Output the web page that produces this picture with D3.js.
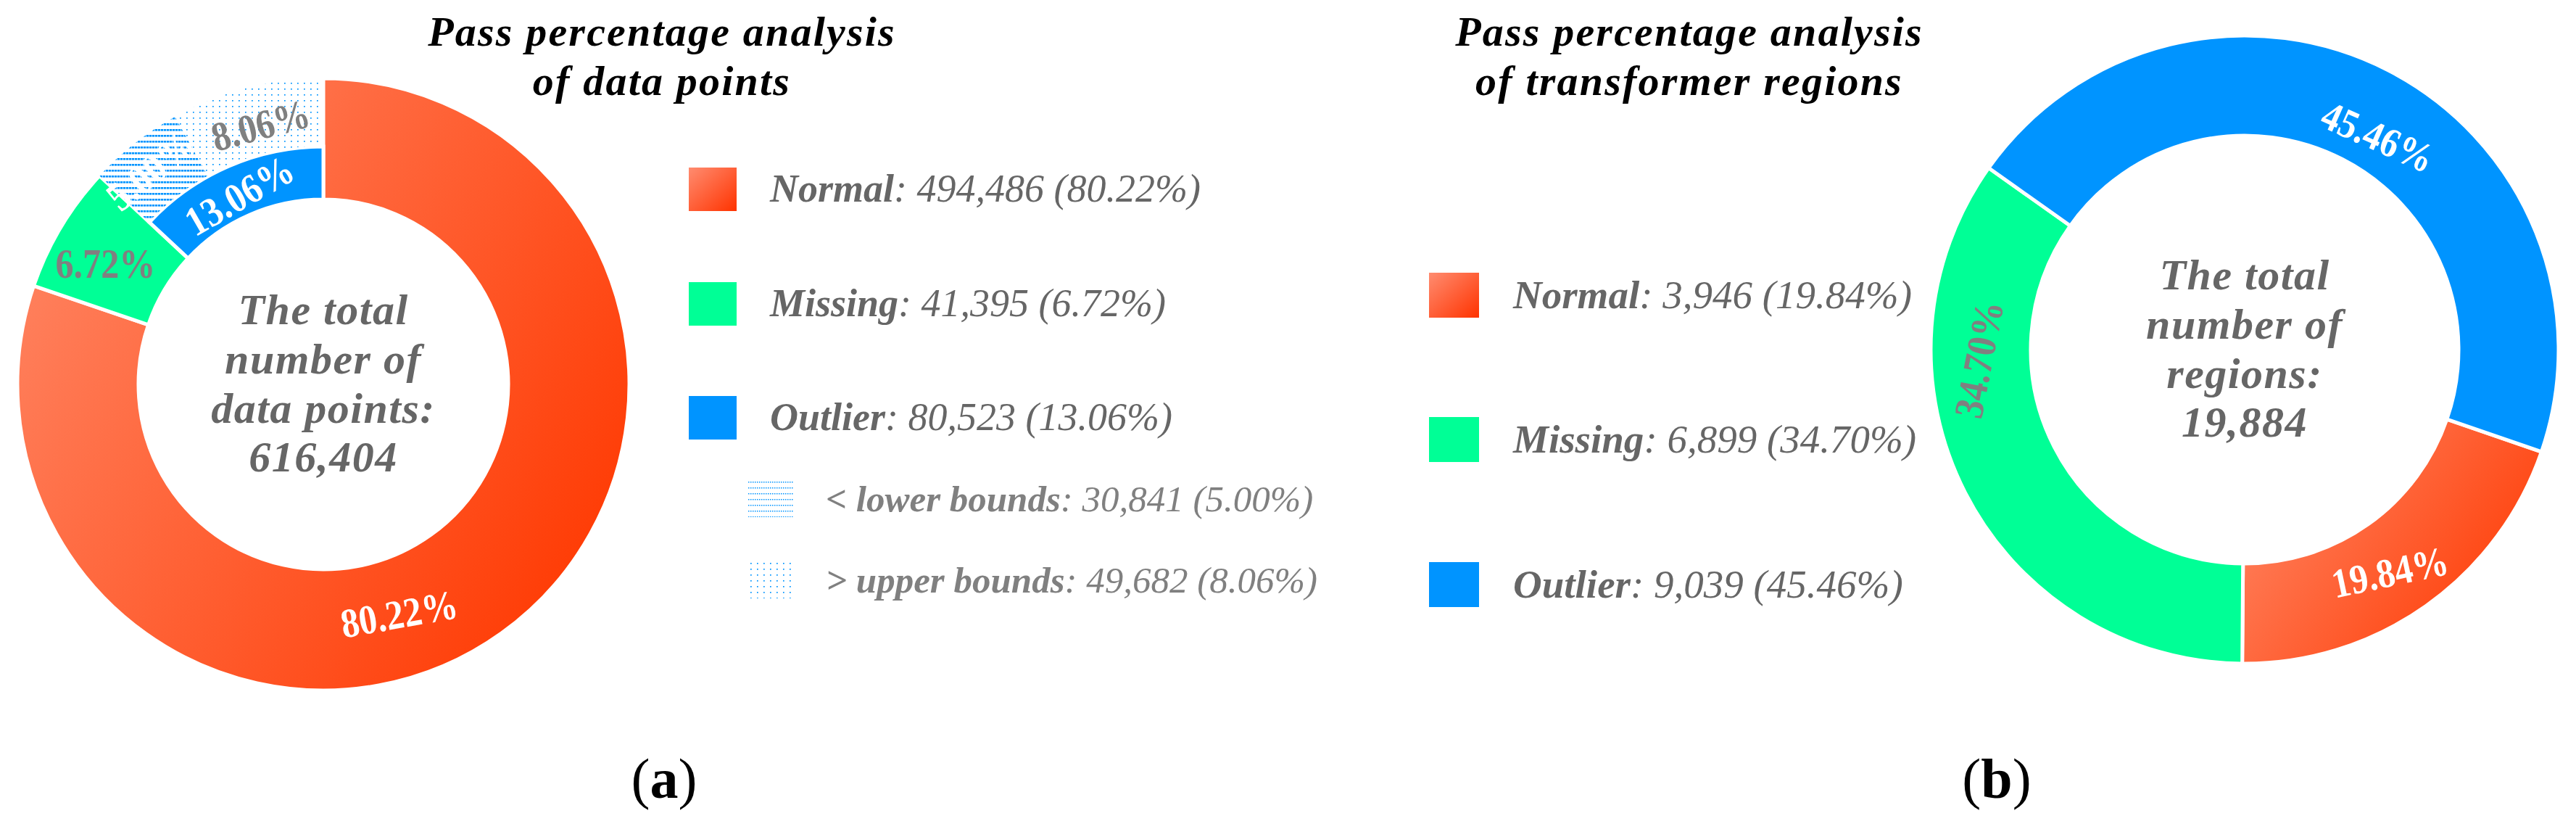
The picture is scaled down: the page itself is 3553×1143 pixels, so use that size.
<!DOCTYPE html>
<html><head><meta charset="utf-8">
<script src="https://cdn.jsdelivr.net/npm/d3@7"></script>
<style>
body{margin:0;background:#fff}
svg{display:block}
text{font-family:"Liberation Serif","Times New Roman",serif}
</style>
</head><body>
<svg id="chart" width="3553" height="1143"></svg>
<script>
// ---------------- data ----------------
const categoriesA = ["Normal", "Missing", "Outlier"];
const countsA = [494486, 41395, 80523];
const percentLabelsA = ["80.22%", "6.72%", "13.06%"];
const outlierSubNames = ["< lower bounds", "> upper bounds"];
const outlierSubCounts = [30841, 49682];
const outlierSubLabels = ["5.00%", "8.06%"];
const categoriesB = ["Normal", "Missing", "Outlier"];
const countsB = [3946, 6899, 9039];
const percentLabelsB = ["19.84%", "34.70%", "45.46%"];
const titleA = ["Pass percentage analysis", "of data points"];
const titleB = ["Pass percentage analysis", "of transformer regions"];
const centerTextA = ["The total", "number of", "data points:"];
const centerTextB = ["The total", "number of", "regions:"];
const panelLetters = ["a", "b"];

// ---------------- style / layout ----------------
const deg = Math.PI / 180;
const COLORS = {Normal: "url(#gradSlice)", Missing: "#00FF96", Outlier: "#0094FF"};
const SWATCH = {Normal: "url(#gradSwatch)", Missing: "#00FF96", Outlier: "#0094FF"};
const A = {cx: 446, cy: 530, r0: 255, rMid: 328, r1: 422, start: 0};
const B = {cx: 3096, cy: 482, r0: 295, r1: 433, start: 109};
const labelLayoutA = [
  {t: 0.56, rf: 0.47, rot: -10, fill: "#fff"},
  {t: 0.42, rf: 0.53, rot: 0, fill: "#808080"},
  {t: 0.49, rf: 0.41, rot: -30, fill: "#fff"}
];
const subLabelLayout = [
  {t: 0.45, rf: 0.54, rot: -39, fill: "#fff"},
  {t: 0.53, rf: 0.42, rot: -15, fill: "#808080"}
];
const labelLayoutB = [
  {t: 0.53, rf: 0.52, rot: -12, fill: "#fff"},
  {t: 0.70, rf: 0.52, rot: -79, fill: "#808080"},
  {t: 0.53, rf: 0.37, rot: 24, fill: "#fff"}
];
const fmt = d3.format(",");

const svg = d3.select("#chart");
svg.append("rect").attr("width", 3553).attr("height", 1143).attr("fill", "#fff");

// ---------------- defs ----------------
const defs = svg.append("defs");
const g1 = defs.append("linearGradient").attr("id", "gradSlice")
  .attr("x1", 0).attr("y1", 0.2).attr("x2", 1).attr("y2", 0.8);
g1.append("stop").attr("offset", 0).attr("stop-color", "#FF8563");
g1.append("stop").attr("offset", 1).attr("stop-color", "#FF3800");
const g2 = defs.append("linearGradient").attr("id", "gradSwatch")
  .attr("x1", 0).attr("y1", 0).attr("x2", 1).attr("y2", 1);
g2.append("stop").attr("offset", 0).attr("stop-color", "#FF8C70");
g2.append("stop").attr("offset", 1).attr("stop-color", "#FF3300");

const pLow = defs.append("pattern").attr("id", "patLow").attr("patternUnits", "userSpaceOnUse")
  .attr("width", 4).attr("height", 8);
pLow.append("rect").attr("x", 0).attr("y", 0).attr("width", 3.3).attr("height", 2.6).attr("fill", "#0094FF");
const pLowL = defs.append("pattern").attr("id", "patLowLegend").attr("patternUnits", "userSpaceOnUse")
  .attr("width", 3).attr("height", 8);
pLowL.append("rect").attr("x", 0).attr("y", 0).attr("width", 1.5).attr("height", 1.5).attr("fill", "#0094FF");
const pUp = defs.append("pattern").attr("id", "patUp").attr("patternUnits", "userSpaceOnUse")
  .attr("width", 9).attr("height", 8);
pUp.append("rect").attr("x", 0).attr("y", 0).attr("width", 1.7).attr("height", 1.7).attr("fill", "#0094FF");
const SUBFILL = ["url(#patLow)", "url(#patUp)"];
const SUBFILL_LEG = ["url(#patLowLegend)", "url(#patUp)"];

// ---------------- helpers ----------------
function polar(r, a) { return [r * Math.sin(a), -r * Math.cos(a)]; }
function pctLabel(g, cfg, arcD, rin, rout, text) {
  const a = arcD.startAngle + cfg.t * (arcD.endAngle - arcD.startAngle);
  const [x, y] = polar(rin + cfg.rf * (rout - rin), a);
  g.append("text")
    .attr("transform", `translate(${x},${y}) rotate(${cfg.rot}) scale(0.88,1)`)
    .attr("text-anchor", "middle").attr("dominant-baseline", "central")
    .attr("font-size", 57).attr("font-weight", "bold")
    .attr("fill", cfg.fill).text(text);
}
function centerText(g, lines, total) {
  const all = lines.concat([fmt(total)]);
  const t = g.append("text").attr("text-anchor", "middle")
    .attr("font-size", 60).attr("font-weight", "bold").attr("font-style", "italic")
    .attr("letter-spacing", 1.5).attr("fill", "#666");
  const offs = [-83, -15, 53, 120];
  all.forEach((s, i) => t.append("tspan").attr("x", 0).attr("y", offs[i]).text(s));
}
function title(x, lines) {
  const t = svg.append("text").attr("text-anchor", "middle")
    .attr("font-size", 58).attr("font-weight", "bold").attr("font-style", "italic")
    .attr("letter-spacing", 2.2).attr("fill", "#000");
  [63, 131].forEach((y, i) => t.append("tspan").attr("x", x).attr("y", y).text(lines[i]));
}

// ---------------- chart (a) ----------------
const gA = svg.append("g").attr("transform", `translate(${A.cx},${A.cy})`);
const pieA = d3.pie().sort(null).value(d => d).startAngle(A.start * deg).endAngle(A.start * deg + 2 * Math.PI)(countsA);
pieA.forEach((d, i) => {
  const rout = categoriesA[i] === "Outlier" ? A.rMid : A.r1;
  gA.append("path")
    .attr("d", d3.arc().innerRadius(A.r0).outerRadius(rout)(d))
    .attr("fill", COLORS[categoriesA[i]])
    .attr("stroke", "#fff").attr("stroke-width", 5);
});
// outlier subdivision (outer ring)
const outl = pieA[2];
const subScale = d3.scaleLinear().domain([0, d3.sum(outlierSubCounts)]).range([outl.startAngle, outl.endAngle]);
const subCum = d3.cumsum(outlierSubCounts);
const subArcs = outlierSubCounts.map((v, i) => ({
  startAngle: subScale(subCum[i] - v), endAngle: subScale(subCum[i])
}));
subArcs.forEach((d, i) => {
  gA.append("path")
    .attr("d", d3.arc().innerRadius(A.rMid + 1).outerRadius(A.r1)(d))
    .attr("fill", SUBFILL[i]);
});
pieA.forEach((d, i) => {
  const rout = categoriesA[i] === "Outlier" ? A.rMid : A.r1;
  pctLabel(gA, labelLayoutA[i], d, A.r0, rout, percentLabelsA[i]);
});
subArcs.forEach((d, i) => pctLabel(gA, subLabelLayout[i], d, A.rMid, A.r1, outlierSubLabels[i]));
centerText(gA, centerTextA, d3.sum(countsA));
title(913, titleA);

// legend (a)
const legA = svg.append("g");
const rowsA = categoriesA.map((c, i) => ({name: c, count: countsA[i], pct: percentLabelsA[i], fill: SWATCH[c], sub: false}))
  .concat(outlierSubNames.map((c, i) => ({name: c, count: outlierSubCounts[i], pct: outlierSubLabels[i], fill: SUBFILL_LEG[i], sub: true})));
const rowYA = [261, 419, 576, 688, 800];
rowsA.forEach((r, i) => {
  const y = rowYA[i];
  if (r.sub) {
    legA.append("rect").attr("x", 1032).attr("y", y - 25).attr("width", 62).attr("height", 50).attr("fill", r.fill);
  } else {
    legA.append("rect").attr("x", 950).attr("y", y - 30).attr("width", 66).attr("height", 60).attr("fill", r.fill);
  }
  const t = legA.append("text").attr("x", r.sub ? 1139 : 1062).attr("y", y + 17)
    .attr("font-size", r.sub ? 51 : 54).attr("font-style", "italic").attr("fill", r.sub ? "#808080" : "#666");
  t.append("tspan").attr("font-weight", "bold").text(r.name);
  t.append("tspan").text(`: ${fmt(r.count)} (${r.pct})`);
});

// ---------------- chart (b) ----------------
const gB = svg.append("g").attr("transform", `translate(${B.cx},${B.cy})`);
const pieB = d3.pie().sort(null).value(d => d).startAngle(B.start * deg).endAngle(B.start * deg + 2 * Math.PI)(countsB);
const arcB = d3.arc().innerRadius(B.r0).outerRadius(B.r1);
pieB.forEach((d, i) => {
  gB.append("path").attr("d", arcB(d)).attr("fill", COLORS[categoriesB[i]])
    .attr("stroke", "#fff").attr("stroke-width", 5);
});
pieB.forEach((d, i) => pctLabel(gB, labelLayoutB[i], d, B.r0, B.r1, percentLabelsB[i]));
centerText(gB, centerTextB, d3.sum(countsB));
title(2330, titleB);

// legend (b)
const legB = svg.append("g");
const rowYB = [407, 606, 806];
categoriesB.forEach((c, i) => {
  const y = rowYB[i];
  legB.append("rect").attr("x", 1971).attr("y", y - 31).attr("width", 69).attr("height", 62).attr("fill", SWATCH[c]);
  const t = legB.append("text").attr("x", 2087).attr("y", y + 18)
    .attr("font-size", 55).attr("font-style", "italic").attr("fill", "#666");
  t.append("tspan").attr("font-weight", "bold").text(c);
  t.append("tspan").text(`: ${fmt(countsB[i])} (${percentLabelsB[i]})`);
});

// panel labels
[916, 2754].forEach((x, i) => {
  const t = svg.append("text").attr("x", x).attr("y", 1100).attr("text-anchor", "middle")
    .attr("font-size", 78).attr("fill", "#000");
  t.append("tspan").text("(");
  t.append("tspan").attr("font-weight", "bold").text(panelLetters[i]);
  t.append("tspan").text(")");
});
</script>
</body></html>
